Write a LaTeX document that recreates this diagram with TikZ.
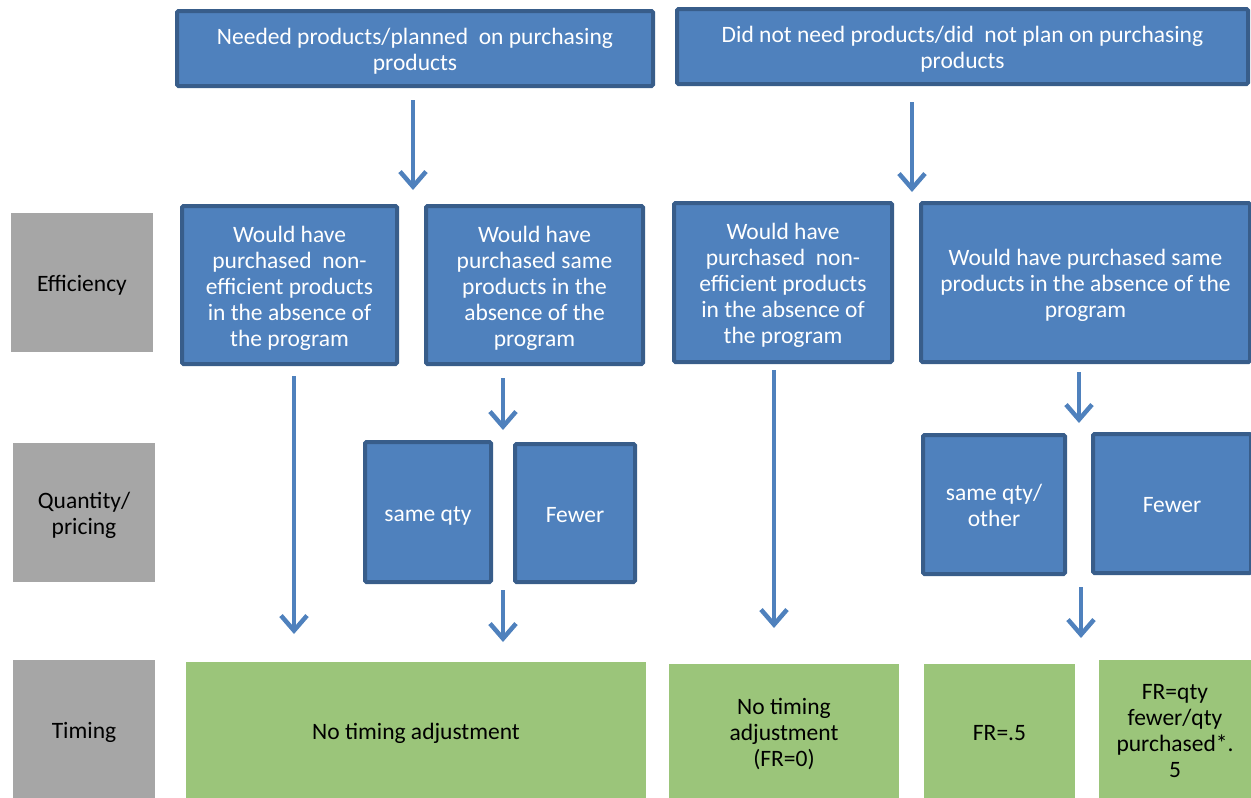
\documentclass[tikz,border=0pt]{standalone}
\usepackage{fontspec}
\setmainfont{Carlito}
\usetikzlibrary{arrows.meta}
\definecolor{bfill}{HTML}{4F81BD}
\definecolor{bline}{HTML}{385D8A}
\definecolor{gfill}{HTML}{9BC57A}
\definecolor{grfill}{HTML}{A6A6A6}
\tikzset{
  bbox/.style={draw=bline, fill=bfill, line width=4pt, rounded corners=1.5pt, text=white, align=center, font=\fontsize{23.5}{26}\selectfont, inner sep=0pt},
  gbox/.style={fill=gfill, text=black, align=center, font=\fontsize{23.5}{26}\selectfont, inner sep=0pt},
  grbox/.style={fill=grfill, text=black, align=center, font=\fontsize{23.5}{26}\selectfont, inner sep=0pt},
  arr/.style={draw=bfill, line width=4.5pt, -{Straight Barb[length=15pt, width=26pt, line width=4.5pt]}},
}
\newcommand{\bx}[7]{\node[#1, minimum width=#4-#2, minimum height=#5-#3] (#6) at ({(#2+#4)/2},{(#3+#5)/2}) {\raisebox{-10.5pt}[0pt][0pt]{\begin{tabular}{@{}c@{}}#7\end{tabular}}};}
\begin{document}
\begin{tikzpicture}[x=1pt,y=-1pt]
\useasboundingbox (0,0) rectangle (1251,798);
% top boxes
\bx{bbox}{177}{11}{653}{86}{top1}{Needed products/planned\ \ on purchasing\\products}
\bx{bbox}{677}{9}{1248}{84}{top2}{Did not need products/did\ \ not plan on purchasing\\products}
% row labels
\bx{grbox}{11}{213}{153}{352}{eff}{Efficiency}
\bx{grbox}{13}{443}{155}{582}{qty}{Quantity/\\pricing}
\bx{grbox}{13}{660}{155}{798}{tim}{Timing}
% efficiency row
\bx{bbox}{182}{206}{397}{364}{b1}{Would have\\purchased\ \ non-\\efficient products\\in the absence of\\the program}
\bx{bbox}{426}{206}{643}{364}{b2}{Would have\\purchased same\\products in the\\absence of the\\program}
\bx{bbox}{674}{203}{892}{362}{b3}{Would have\\purchased\ \ non-\\efficient products\\in the absence of\\the program}
\bx{bbox}{921}{203}{1250}{362}{b4}{Would have purchased same\\products in the absence of the\\program}
% quantity row
\bx{bbox}{365}{442}{491}{582}{q1}{same qty}
\bx{bbox}{515}{444}{635}{582}{q2}{Fewer}
\bx{bbox}{923}{435}{1065}{574}{q3}{same qty/\\other}
\bx{bbox}{1093}{434}{1251}{573}{q4}{Fewer}
% timing row
\bx{gbox}{186}{662}{646}{798}{g1}{No timing adjustment}
\bx{gbox}{669}{664}{899}{798}{g2}{No timing\\adjustment\\(FR=0)}
\bx{gbox}{924}{664}{1075}{798}{g3}{FR=.5}
\bx{gbox}{1099}{660}{1251}{798}{g4}{FR=qty\\fewer/qty\\purchased*.\\5}
% arrow end points
\coordinate (a1s) at (413,100); \coordinate (a1e) at (413,190);
\coordinate (a2s) at (912,102); \coordinate (a2e) at (912,192);
\coordinate (a3s) at (294,376); \coordinate (a3e) at (294,634);
\coordinate (a4s) at (503,378); \coordinate (a4e) at (503,430);
\coordinate (a5s) at (774,370); \coordinate (a5e) at (774,628);
\coordinate (a6s) at (1079,372); \coordinate (a6e) at (1079,423);
\coordinate (a7s) at (503,590); \coordinate (a7e) at (503,642);
\coordinate (a8s) at (1081,587); \coordinate (a8e) at (1081,638);
\draw[arr] (a1s) -- (a1e);
\draw[arr] (a2s) -- (a2e);
\draw[arr] (a3s) -- (a3e);
\draw[arr] (a4s) -- (a4e);
\draw[arr] (a5s) -- (a5e);
\draw[arr] (a6s) -- (a6e);
\draw[arr] (a7s) -- (a7e);
\draw[arr] (a8s) -- (a8e);
\end{tikzpicture}
\end{document}
